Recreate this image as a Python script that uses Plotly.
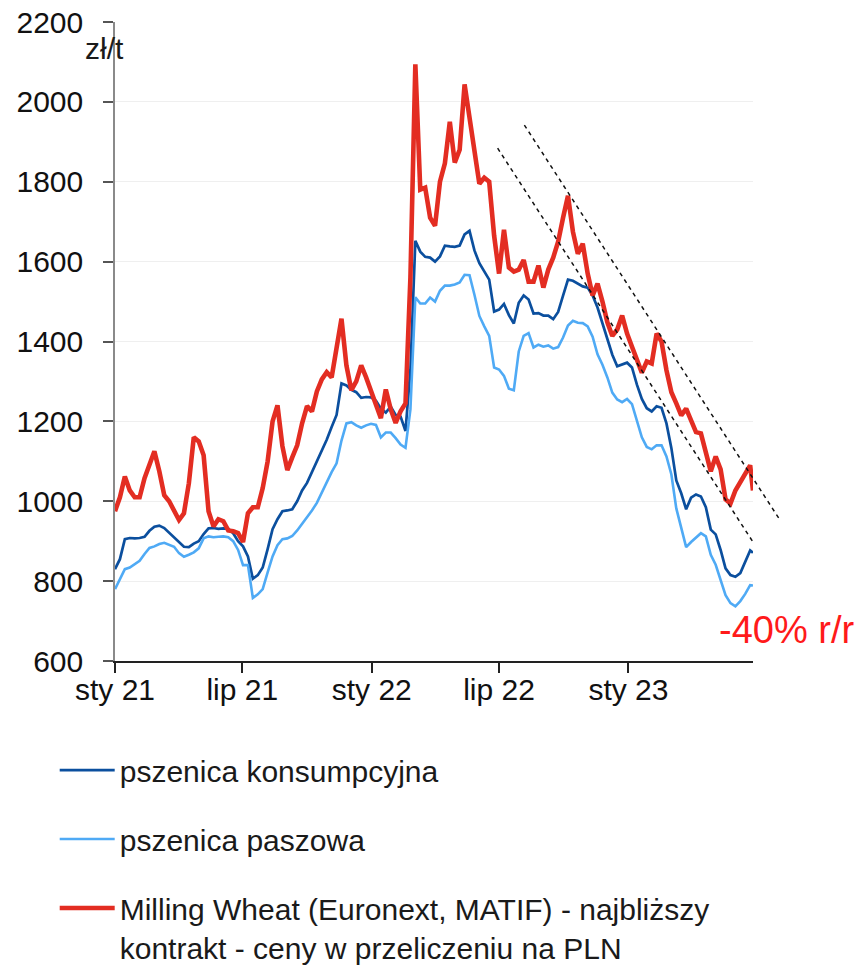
import pandas as pd
import plotly.graph_objects as go

# ---------------- data ----------------
start_date = "2021-01-01"
end_date = "2023-06-27"
weekly_dates = pd.date_range(start_date, periods=130, freq="7D")
dates = list(weekly_dates) + [pd.Timestamp(end_date)]

matif = [975, 1010, 1062, 1027, 1010, 1010, 1058, 1092, 1125, 1075,
         1015, 1000, 975, 953, 970, 1045, 1160, 1150, 1115, 975,
         937, 955, 950, 927, 925, 920, 898, 970, 985, 985,
         1033, 1100, 1200, 1240, 1138, 1078, 1110, 1140, 1195, 1238,
         1225, 1275, 1305, 1323, 1310, 1378, 1457, 1340, 1278, 1300,
         1340, 1310, 1275, 1235, 1208, 1280, 1230, 1196, 1225, 1245,
         1560, 2094, 1780, 1785, 1710, 1690, 1800, 1846, 1950, 1848,
         1880, 2044, 1965, 1880, 1795, 1810, 1800, 1665, 1570, 1680,
         1585, 1575, 1580, 1604, 1550, 1550, 1590, 1535, 1580, 1610,
         1650, 1710, 1765, 1675, 1620, 1645, 1570, 1515, 1545, 1500,
         1448, 1414, 1430, 1465, 1420, 1387, 1355, 1322, 1350, 1345,
         1420, 1400, 1328, 1273, 1245, 1215, 1232, 1202, 1173, 1170,
         1117, 1075, 1112, 1080, 1005, 994, 1027, 1048, 1068, 1090,
         1027]

konsumpcyjna = [830, 855, 905, 908, 907, 908, 911, 926, 936, 939,
                933, 921, 909, 896, 886, 885, 894, 900, 918, 932,
                933, 931, 932, 931, 920, 900, 887, 862, 806, 815,
                834, 880, 930, 955, 975, 977, 980, 1000, 1027, 1046,
                1073, 1096, 1126, 1154, 1186, 1216, 1295, 1290, 1279, 1273,
                1259, 1261, 1260, 1252, 1232, 1222, 1237, 1216, 1212, 1176,
                1330, 1652, 1625, 1612, 1610, 1600, 1613, 1640, 1638, 1637,
                1640, 1668, 1677, 1628, 1596, 1574, 1555, 1475, 1480, 1494,
                1466, 1445, 1497, 1515, 1505, 1470, 1471, 1465, 1465, 1456,
                1474, 1515, 1555, 1552, 1544, 1538, 1535, 1515, 1485, 1447,
                1404, 1367, 1338, 1343, 1347, 1335, 1292, 1256, 1233, 1225,
                1238, 1234, 1195, 1133, 1052, 1020, 980, 1009, 1017, 1012,
                985, 929, 917, 878, 832, 815, 811, 820, 850, 877,
                871]

paszowa = [780, 807, 830, 834, 843, 851, 868, 883, 887, 893,
           896, 891, 886, 870, 861, 866, 872, 882, 907, 912,
           910, 911, 912, 910, 900, 878, 840, 840, 758, 767,
           780, 822, 862, 890, 905, 907, 913, 927, 943, 960,
           977, 996, 1022, 1050, 1073, 1095, 1152, 1195, 1198, 1190,
           1184, 1190, 1194, 1191, 1160, 1172, 1172, 1158, 1142, 1134,
           1230, 1511, 1495, 1495, 1510, 1500, 1527, 1540, 1540, 1543,
           1548, 1567, 1566, 1517, 1464, 1438, 1414, 1335, 1330, 1314,
           1282, 1278, 1375, 1414, 1421, 1385, 1392, 1387, 1390, 1382,
           1386, 1410, 1440, 1452, 1447, 1446, 1438, 1412, 1368, 1342,
           1310, 1272, 1255, 1248, 1256, 1243, 1200, 1160, 1136, 1130,
           1140, 1140, 1112, 1067, 982, 935, 885, 898, 909, 920,
           912, 866, 841, 800, 765, 745, 737, 750, 768, 790,
           789]

trend_lower_dates = ["2022-06-29", "2023-06-27"]
trend_lower_vals = [1884, 898]
trend_upper_dates = ["2022-08-06", "2023-08-04"]
trend_upper_vals = [1942, 954]

tick_dates = ["2021-01-01", "2021-07-01", "2022-01-01", "2022-07-01", "2023-01-01"]
tick_text = ["sty 21", "lip 21", "sty 22", "lip 22", "sty 23"]
y_ticks = [600, 800, 1000, 1200, 1400, 1600, 1800, 2000, 2200]

names = ["pszenica konsumpcyjna", "pszenica paszowa",
         "Milling Wheat (Euronext, MATIF) - najbliższy<br>kontrakt - ceny w przeliczeniu na PLN"]

# ---------------- figure ----------------
FONT = "Liberation Sans, Arial, sans-serif"
W, H = 858, 968
ML, MR, MT, MB = 115, 73, 22, 307
main_frac = 0.9522  # main axis occupies this share of plot width

fig = go.Figure()
fig.add_trace(go.Scatter(x=dates, y=konsumpcyjna, mode="lines", name=names[0],
                         line=dict(color="#0B4F9E", width=2.7), legendgroup="a"))
fig.add_trace(go.Scatter(x=dates, y=paszowa, mode="lines", name=names[1],
                         line=dict(color="#4FAAF5", width=2.6), legendgroup="b"))
fig.add_trace(go.Scatter(x=dates, y=matif, mode="lines", name=names[2],
                         line=dict(color="#E32D22", width=4.6), legendgroup="c"))

for dts, vals in [(trend_lower_dates, trend_lower_vals), (trend_upper_dates, trend_upper_vals)]:
    fig.add_trace(go.Scatter(x=dts, y=vals, mode="lines", xaxis="x2", yaxis="y2",
                             line=dict(color="#111111", width=1.5, dash="4px,4px"),
                             showlegend=False, hoverinfo="skip"))

t0 = pd.Timestamp(start_date)
t1 = pd.Timestamp(end_date)
ext_end = t0 + (t1 - t0) / main_frac

fig.update_layout(
    width=W, height=H,
    margin=dict(l=ML, r=MR, t=MT, b=MB, autoexpand=False),
    paper_bgcolor="white", plot_bgcolor="rgba(0,0,0,0)",
    font=dict(family=FONT, size=30, color="#1a1a1a"),
    xaxis=dict(type="date", range=[start_date, end_date], domain=[0, main_frac], anchor="y",
               tickvals=tick_dates, ticktext=tick_text, showgrid=False,
               showline=True, linecolor="#222222", linewidth=1.5,
               ticks="outside", ticklen=10, tickwidth=1.5, tickcolor="#222222",
               ticklabelstandoff=-9,
               tickfont=dict(size=30, color="#111111"), zeroline=False),
    yaxis=dict(range=[600, 2200], tickvals=y_ticks, showgrid=True, gridcolor="#efefef",
               gridwidth=1, showline=True, linecolor="#8a8a8a", linewidth=1.5,
               ticks="outside", ticklen=10, tickwidth=1.5, tickcolor="#555555",
               ticklabelstandoff=14, tickfont=dict(size=30, color="#111111"),
               zeroline=False, anchor="x"),
    xaxis2=dict(type="date", range=[t0, ext_end], domain=[0, 1], anchor="y2", visible=False),
    yaxis2=dict(range=[600, 2200], domain=[0, 1], anchor="x2", visible=False),
    legend=dict(orientation="v", x=-0.09, y=-0.130, xanchor="left", yanchor="top",
                tracegroupgap=27, itemwidth=55, valign="top",
                font=dict(size=30, color="#1a1a1a"), bgcolor="rgba(0,0,0,0)"),
    showlegend=True,
    annotations=[
        dict(text="zł/t", xref="paper", yref="paper", x=-0.015, y=0.958,
             xanchor="center", yanchor="middle", showarrow=False,
             font=dict(size=30, color="#1a1a1a")),
        dict(text="-40% r/r", xref="paper", yref="paper", x=1.0015, y=0.0485,
             xanchor="center", yanchor="middle", showarrow=False,
             font=dict(size=38, color="#FF1A1A")),
    ],
)

fig.write_html("out.html", config={"displayModeBar": False},
               post_script="document.body.style.margin='0px';")
